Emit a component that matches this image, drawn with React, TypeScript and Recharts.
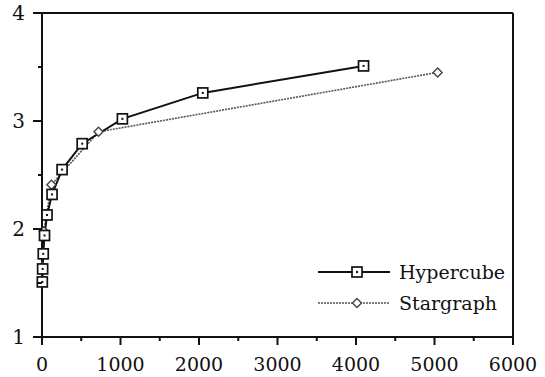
import { LineChart, Line, XAxis, YAxis, ReferenceLine } from "recharts";

// number of nodes vs. value
const hyperNodes = [4, 8, 16, 32, 64, 128, 256, 512, 1024, 2048, 4096];
const hyperValues = [1.51, 1.63, 1.77, 1.94, 2.13, 2.32, 2.55, 2.79, 3.02, 3.26, 3.51];
const starNodes = [6, 24, 120, 720, 5040];
const starValues = [1.65, 1.98, 2.41, 2.9, 3.45];

const xTicks = [0, 500, 1000, 1500, 2000, 2500, 3000, 3500, 4000, 4500, 5000, 5500, 6000];
const yTicks = [1, 1.5, 2, 2.5, 3, 3.5, 4];

const hyperData = hyperNodes.map((n, i) => ({ n, v: hyperValues[i] }));
const starData = starNodes.map((n, i) => ({ n, v: starValues[i] }));

const FONT = "'DejaVu Serif', 'Liberation Serif', serif";
const INK = "#111";

function Square({ cx, cy }: any) {
  if (cx == null || cy == null) return null;
  return (
    <g>
      <rect x={cx - 5} y={cy - 5} width={10} height={10} fill="#fff" stroke={INK} strokeWidth={1.7} />
      <rect x={cx - 1} y={cy - 1} width={2} height={2} fill={INK} />
    </g>
  );
}

function Diamond({ cx, cy }: any) {
  if (cx == null || cy == null) return null;
  return (
    <path
      d={`M${cx},${cy - 4.5}L${cx + 4.5},${cy}L${cx},${cy + 4.5}L${cx - 4.5},${cy}Z`}
      fill="#fff"
      stroke="#444"
      strokeWidth={1.4}
    />
  );
}

function XTick({ x, y, payload }: any) {
  const major = payload.value % 1000 === 0;
  return (
    <g>
      <line x1={x} y1={y} x2={x} y2={y + (major ? 8 : 4)} stroke={INK} strokeWidth={2} />
      {major && (
        <text x={x} y={y + 34} textAnchor="middle" fontFamily={FONT} fontSize={19} fill={INK}>
          {payload.value}
        </text>
      )}
    </g>
  );
}

function YTick({ x, y, payload }: any) {
  const major = Number.isInteger(payload.value);
  return (
    <g>
      <line x1={x} y1={y} x2={x - (major ? 9 : 4)} y2={y} stroke={INK} strokeWidth={2} />
      {major && (
        <text x={x - 17} y={y + 7} textAnchor="end" fontFamily={FONT} fontSize={20} fill={INK}>
          {payload.value}
        </text>
      )}
    </g>
  );
}

function LegendRow({ label, dotted }: { label: string; dotted?: boolean }) {
  return (
    <div style={{ display: "flex", alignItems: "center", height: 31 }}>
      <svg width={81} height={14}>
        <line
          x1={0}
          y1={7}
          x2={72}
          y2={7}
          stroke={dotted ? "#555" : INK}
          strokeWidth={dotted ? 1.6 : 2}
          strokeDasharray={dotted ? "2 1" : undefined}
        />
        {dotted ? <Diamond cx={39} cy={7} /> : <Square cx={39} cy={7} />}
      </svg>
      <span style={{ fontFamily: FONT, fontSize: 19, color: INK }}>{label}</span>
    </div>
  );
}

export default function App() {
  return (
    <div style={{ position: "absolute", left: 0, top: 0, width: 545, height: 377, background: "#fff" }}>
      <LineChart width={545} height={377} margin={{ top: 13, right: 32, left: 0, bottom: 0 }}>
        <XAxis
          dataKey="n"
          type="number"
          domain={[0, 6000]}
          ticks={xTicks}
          interval={0}
          height={40}
          tickSize={0}
          tickMargin={0}
          tick={<XTick />}
          axisLine={{ stroke: INK, strokeWidth: 2 }}
          allowDuplicatedCategory={false}
        />
        <YAxis
          dataKey="v"
          type="number"
          domain={[1, 4]}
          ticks={yTicks}
          interval={0}
          width={42}
          tickSize={0}
          tickMargin={0}
          tick={<YTick />}
          axisLine={{ stroke: INK, strokeWidth: 2 }}
        />
        <ReferenceLine y={4} stroke={INK} strokeWidth={2} />
        <ReferenceLine x={6000} stroke={INK} strokeWidth={2} />
        <Line
          data={starData}
          dataKey="v"
          name="Stargraph"
          type="linear"
          stroke="#555"
          strokeWidth={1.6}
          strokeDasharray="2 1"
          dot={<Diamond />}
          isAnimationActive={false}
        />
        <Line
          data={hyperData}
          dataKey="v"
          name="Hypercube"
          type="linear"
          stroke={INK}
          strokeWidth={2}
          dot={<Square />}
          isAnimationActive={false}
        />
      </LineChart>
      <div style={{ position: "absolute", left: 318, top: 256 }}>
        <LegendRow label="Hypercube" />
        <LegendRow label="Stargraph" dotted />
      </div>
    </div>
  );
}
